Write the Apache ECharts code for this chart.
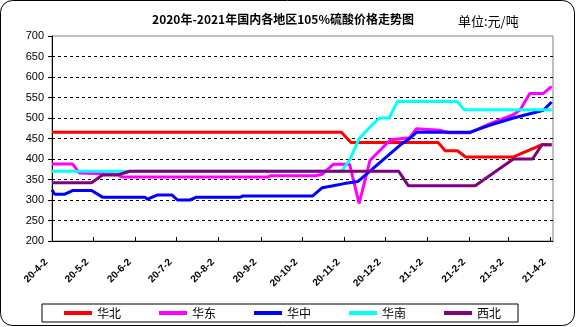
<!DOCTYPE html>
<html>
<head>
<meta charset="utf-8">
<script src="https://cdn.jsdelivr.net/npm/echarts@6/dist/echarts.min.js"></script>
<style>
html, body { margin: 0; padding: 0; background: #fff; }
#chart { width: 576px; height: 327px; }
</style>
</head>
<body>
<div id="chart"></div>
<script>
// Regional 105% sulfuric acid prices (yuan/ton), [date, price] at each change point
const seriesNames = ['华北', '华东', '华中', '华南', '西北'];
const seriesColors = ['#FF0000', '#FF00FF', '#0000FF', '#00FFFF', '#800080'];

const huabei = [
  ['2020-04-02', 465], ['2020-10-31', 465], ['2020-11-07', 440], ['2021-01-10', 440],
  ['2021-01-15', 420], ['2021-01-24', 420], ['2021-01-30', 405], ['2021-03-06', 405],
  ['2021-03-27', 435], ['2021-04-03', 435]
];
const huadong = [
  ['2020-04-02', 388], ['2020-04-17', 388], ['2020-04-22', 366], ['2020-05-20', 363],
  ['2020-05-23', 356], ['2020-09-07', 356], ['2020-09-09', 359], ['2020-10-12', 359],
  ['2020-10-17', 363], ['2020-10-25', 387], ['2020-11-06', 387], ['2020-11-13', 292],
  ['2020-11-21', 397], ['2020-12-06', 447], ['2020-12-20', 452], ['2020-12-25', 474],
  ['2021-01-11', 470], ['2021-01-18', 464], ['2021-02-02', 464], ['2021-02-17', 486],
  ['2021-03-06', 508], ['2021-03-11', 520], ['2021-03-18', 560], ['2021-03-28', 560],
  ['2021-04-03', 577]
];
const huazhong = [
  ['2020-04-02', 325], ['2020-04-04', 314], ['2020-04-11', 314], ['2020-04-17', 323],
  ['2020-05-01', 323], ['2020-05-09', 307], ['2020-06-09', 307], ['2020-06-11', 302],
  ['2020-06-18', 312], ['2020-06-29', 312], ['2020-07-03', 300], ['2020-07-12', 300],
  ['2020-07-17', 307], ['2020-08-18', 307], ['2020-08-20', 310], ['2020-10-10', 310],
  ['2020-10-17', 330], ['2020-10-24', 334], ['2020-11-02', 340], ['2020-11-12', 345],
  ['2020-12-13', 434], ['2020-12-20', 450], ['2020-12-25', 465], ['2021-02-02', 465],
  ['2021-02-07', 471], ['2021-02-17', 483], ['2021-03-06', 500], ['2021-03-28', 519],
  ['2021-04-03', 539]
];
const huanan = [
  ['2020-04-02', 370], ['2020-10-31', 370], ['2020-11-06', 397], ['2020-11-13', 450],
  ['2020-11-21', 478], ['2020-11-28', 500], ['2020-12-05', 500], ['2020-12-11', 540],
  ['2021-01-24', 540], ['2021-01-29', 520], ['2021-04-03', 520]
];
const xibei = [
  ['2020-04-02', 342], ['2020-05-01', 342], ['2020-05-09', 361], ['2020-05-20', 361],
  ['2020-05-29', 370], ['2020-12-12', 370], ['2020-12-19', 335], ['2021-02-06', 335],
  ['2021-03-06', 400], ['2021-03-20', 400], ['2021-03-27', 435], ['2021-04-03', 435]
];

const tickDates = [
  '2020-04-02', '2020-05-02', '2020-06-02', '2020-07-02', '2020-08-02', '2020-09-02',
  '2020-10-02', '2020-11-02', '2020-12-02', '2021-01-02', '2021-02-02', '2021-03-02',
  '2021-04-02'
];
const tickLabels = [
  '20-4-2', '20-5-2', '20-6-2', '20-7-2', '20-8-2', '20-9-2', '20-10-2',
  '20-11-2', '20-12-2', '21-1-2', '21-2-2', '21-3-2', '21-4-2'
];
const axisEnd = '2021-04-04';

// x positions are days counted from the first date
const START = Date.UTC(2020, 3, 2);
function dayOf(s) {
  const p = s.split('-').map(Number);
  return Math.round((Date.UTC(p[0], p[1] - 1, p[2]) - START) / 864e5);
}
const tickDays = tickDates.map(dayOf);
const allSeries = [huabei, huadong, huazhong, huanan, xibei];

const chart = echarts.init(document.getElementById('chart'), null, { renderer: 'canvas' });
chart.setOption({
  animation: false,
  backgroundColor: '#fff',
  graphic: [
    { type: 'rect', shape: { x: 0.5, y: 0.5, width: 574, height: 325, r: 12 },
      style: { fill: 'none', stroke: '#000', lineWidth: 1 }, z: 100 },
    { type: 'text', x: 283, y: 19,
      style: { text: '2020年-2021年国内各地区105%硫酸价格走势图', fill: '#000',
        font: 'bold 12px "Noto Sans CJK SC"', textAlign: 'center', textVerticalAlign: 'middle' } },
    { type: 'text', x: 458, y: 21,
      style: { text: '单位:元/吨', fill: '#000',
        font: '13px "Noto Sans CJK SC"', textAlign: 'left', textVerticalAlign: 'middle' } }
  ],
  grid: {
    left: 52, right: 23, top: 36, bottom: 86,
    show: true, borderColor: '#808080', borderWidth: 1
  },
  legend: {
    data: seriesNames,
    left: 42, top: 304,
    padding: [3, 17, 3, 22],
    itemGap: 38,
    itemWidth: 28, itemHeight: 4,
    icon: 'rect',
    borderColor: '#000', borderWidth: 1,
    textStyle: { fontSize: 12, color: '#000', fontFamily: 'Noto Sans CJK SC' }
  },
  xAxis: {
    type: 'value',
    min: 0, max: dayOf(axisEnd),
    axisLine: { show: true, lineStyle: { color: '#000', width: 1 } },
    axisTick: { show: true, inside: true, length: 4, customValues: tickDays, lineStyle: { color: '#000' } },
    axisLabel: {
      customValues: tickDays,
      formatter: v => tickLabels[tickDays.indexOf(Math.round(v))] || '',
      rotate: 45, margin: 14, padding: [0, 8, 0, 0],
      fontSize: 10, fontWeight: 'bold', color: '#000', fontFamily: 'Liberation Sans'
    },
    splitLine: { show: false }
  },
  yAxis: {
    type: 'value',
    min: 200, max: 700, interval: 50,
    axisLine: { show: true, lineStyle: { color: '#000', width: 1 } },
    axisTick: { show: true, inside: false, length: 4, lineStyle: { color: '#000' } },
    axisLabel: { margin: 8, fontSize: 11, color: '#000', fontFamily: 'Liberation Sans' },
    splitLine: {
      show: true, showMinLine: false, showMaxLine: false,
      lineStyle: { color: '#000', type: [3, 3], width: 1 }
    }
  },
  series: allSeries.map((arr, i) => ({
    name: seriesNames[i],
    type: 'line',
    data: arr.map(d => [dayOf(d[0]), d[1]]),
    showSymbol: false,
    symbol: 'none',
    lineStyle: { color: seriesColors[i], width: 3 },
    itemStyle: { color: seriesColors[i] },
    z: 2 + i
  }))
});
</script>
</body>
</html>
